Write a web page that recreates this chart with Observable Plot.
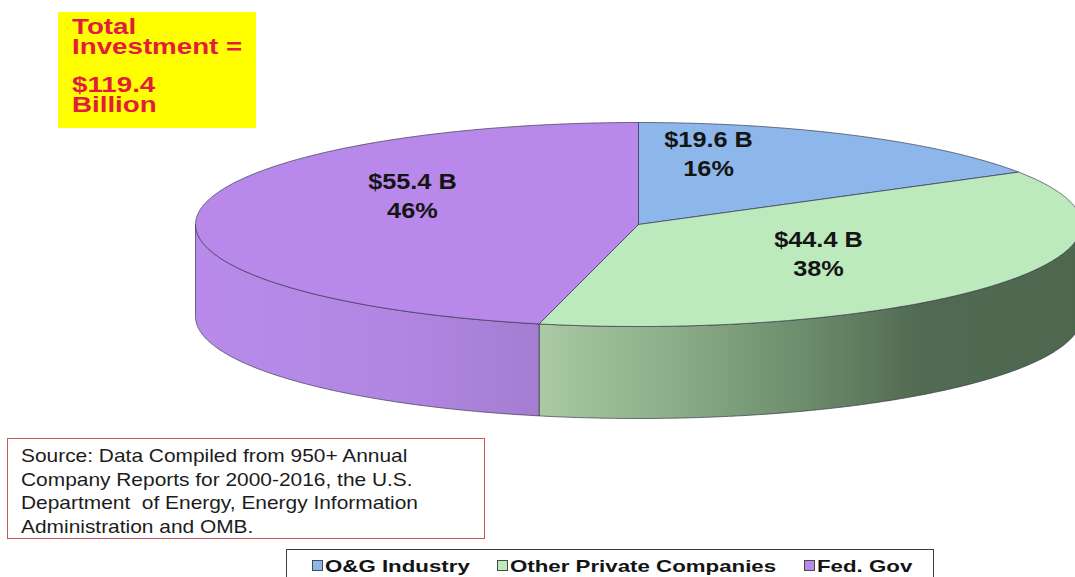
<!DOCTYPE html>
<html>
<head>
<meta charset="utf-8">
<script src="https://cdn.jsdelivr.net/npm/d3@7"></script>
<script src="https://cdn.jsdelivr.net/npm/@observablehq/plot@0.6"></script>
<style>
  html, body { margin: 0; padding: 0; background: #fff; }
  #wrap { position: relative; width: 1075px; height: 577px; overflow: hidden;
          font-family: "Liberation Sans", Arial, sans-serif; }
  #wrap svg { position: absolute; left: 0; top: 0; }
  .total-box { position: absolute; left: 58px; top: 12px; width: 198px; height: 116px; background: #ffff00; }
  .total-line { position: absolute; left: 14px; font-weight: bold; font-size: 22px; line-height: 20px;
                color: #e31b3e; white-space: pre; transform: scaleX(1.26); transform-origin: left center; }
  .source-box { position: absolute; left: 7px; top: 438px; width: 476px; height: 99px;
                border: 1px solid #c4585a; background: #fff; }
  .source-line { position: absolute; left: 13px; font-size: 18.5px; line-height: 23.5px; color: #1c1c1c;
                 white-space: pre; transform: scaleX(1.13); transform-origin: left center; }
  .legend-box { position: absolute; left: 286px; top: 549px; width: 646px; height: 30px;
                border: 1px solid #3c3c3c; background: #fff; }
  .legend-sq { position: absolute; width: 9px; height: 9px; border: 1px solid #4a4a4a; }
  .legend-txt { position: absolute; font-weight: bold; font-size: 16.5px; line-height: 16.5px; color: #141414;
                white-space: pre; transform: scaleX(1.35); transform-origin: left center; }
</style>
</head>
<body>
<div id="wrap"></div>
<script>
// ---------------- data ----------------
const categories = ["O&G Industry", "Other Private Companies", "Fed. Gov"];
const values = [19.6, 44.4, 55.4];
const valueLabels = ["$19.6 B", "$44.4 B", "$55.4 B"];
const percentLabels = ["16%", "38%", "46%"];
const colors = ["#8db7ea", "#bdeabc", "#b888eb"];
const totalLines = ["Total\nInvestment =", "$119.4\nBillion"];
const sourceLines = [
  "Source: Data Compiled from 950+ Annual",
  "Company Reports for 2000-2016, the U.S.",
  "Department  of Energy, Energy Information",
  "Administration and OMB."
];

// ---------------- layout (pixels) ----------------
const W = 1075, H = 577;
const geom = { cx: 638, cy: 224, rx: 443, ry: 102, depth: 92 };
const labelRadius = 0.6;
const labelNudge = [[-61, -19], [-35, -8], [38, -23]]; // px offsets from radial anchor
const sideStops = [
  null,
  [[0, "#a9caa3"], [0.25, "#8bad87"], [0.5, "#6b8b6a"], [0.7, "#516a53"], [1, "#4d684f"]],
  [[0, "#b88bea"], [0.6, "#b186e2"], [1, "#a47dd1"]]
];

// ---------------- geometry from data ----------------
const D = geom.depth / geom.ry;
const arcs = d3.pie().sort(null).value(d => d)(values);

function rim(a0, a1, off) {
  const n = Math.max(2, Math.ceil((a1 - a0) / 0.008));
  return d3.range(n + 1).map(i => {
    const t = a0 + (a1 - a0) * i / n;
    return { x: Math.sin(t), y: Math.cos(t) - off };
  });
}

const tops = arcs.map(a => [{ x: 0, y: 0 }, ...rim(a.startAngle, a.endAngle, 0), { x: 0, y: 0 }]);
const sides = arcs.map(a => {
  const a0 = Math.max(a.startAngle, Math.PI / 2);
  const a1 = Math.min(a.endAngle, 1.5 * Math.PI);
  if (a1 <= a0) return null;
  const t = rim(a0, a1, 0);
  const b = rim(a0, a1, D).reverse();
  return [...t, ...b, t[0]];
});

const labels = arcs.map((a, i) => {
  const m = (a.startAngle + a.endAngle) / 2;
  return {
    x: labelRadius * Math.sin(m) + labelNudge[i][0] / geom.rx,
    y: labelRadius * Math.cos(m) - labelNudge[i][1] / geom.ry,
    text: valueLabels[i] + "\n" + percentLabels[i]
  };
});

const edge = { stroke: "#34344a", strokeWidth: 0.8, strokeOpacity: 0.85, curve: "linear" };

const marks = [];
sides.forEach((s, i) => {
  if (s) marks.push(Plot.line(s, { x: "x", y: "y", fill: `url(#side${i})`, ...edge }));
});
tops.forEach((t, i) => {
  marks.push(Plot.line(t, { x: "x", y: "y", fill: colors[i], ...edge }));
});
marks.push(Plot.text(labels, {
  x: "x", y: "y", text: "text", fontSize: 22, fontWeight: "bold", lineHeight: 1.32,
  fill: "#141414", fontFamily: "Liberation Sans, Arial, sans-serif"
}));

const svg = Plot.plot({
  width: W, height: H,
  margin: 0,
  x: { domain: [-geom.cx / geom.rx, (W - geom.cx) / geom.rx], range: [0, W], axis: null },
  y: { domain: [-(H - geom.cy) / geom.ry, geom.cy / geom.ry], range: [H, 0], axis: null },
  style: { background: "transparent", overflow: "visible" },
  marks
});

// gradients for the side faces
const defs = d3.select(svg).insert("defs", ":first-child");
sideStops.forEach((stops, i) => {
  if (!stops) return;
  const g = defs.append("linearGradient").attr("id", `side${i}`)
    .attr("x1", 0).attr("y1", 0).attr("x2", 1).attr("y2", 0);
  stops.forEach(([o, c]) => g.append("stop").attr("offset", o).attr("stop-color", c));
});

// horizontal stretch of label text (as in the reference)
svg.querySelectorAll("text").forEach(t => {
  const tr = t.getAttribute("transform");
  if (tr) t.setAttribute("transform", tr + " scale(1.15,1)");
  else {
    const x = +t.getAttribute("x") || 0, y = +t.getAttribute("y") || 0;
    t.removeAttribute("x"); t.removeAttribute("y");
    t.setAttribute("transform", `translate(${x},${y}) scale(1.15,1)`);
  }
});

const wrap = document.getElementById("wrap");
wrap.appendChild(svg);

// total investment box
const tb = document.createElement("div");
tb.className = "total-box";
const totalTops = [5.4, 63.4];
totalLines.forEach((s, i) => {
  const d = document.createElement("div");
  d.className = "total-line";
  d.style.top = totalTops[i] + "px";
  d.textContent = s;
  tb.appendChild(d);
});
wrap.appendChild(tb);

// source box
const sb = document.createElement("div");
sb.className = "source-box";
sourceLines.forEach((s, i) => {
  const d = document.createElement("div");
  d.className = "source-line";
  d.style.top = (5 + i * 23.5) + "px";
  d.textContent = s;
  sb.appendChild(d);
});
wrap.appendChild(sb);

// legend
const lb = document.createElement("div");
lb.className = "legend-box";
wrap.appendChild(lb);
let lx = 25;
const scaleL = 1.35;
categories.forEach((c, i) => {
  const sq = document.createElement("div");
  sq.className = "legend-sq";
  sq.style.left = lx + "px";
  sq.style.top = "10px";
  sq.style.background = colors[i];
  lb.appendChild(sq);
  const t = document.createElement("div");
  t.className = "legend-txt";
  t.style.left = (lx + 13) + "px";
  t.style.top = "8px";
  t.textContent = c;
  lb.appendChild(t);
  lx = lx + 13 + t.offsetWidth * scaleL + 28;
});
</script>
</body>
</html>
